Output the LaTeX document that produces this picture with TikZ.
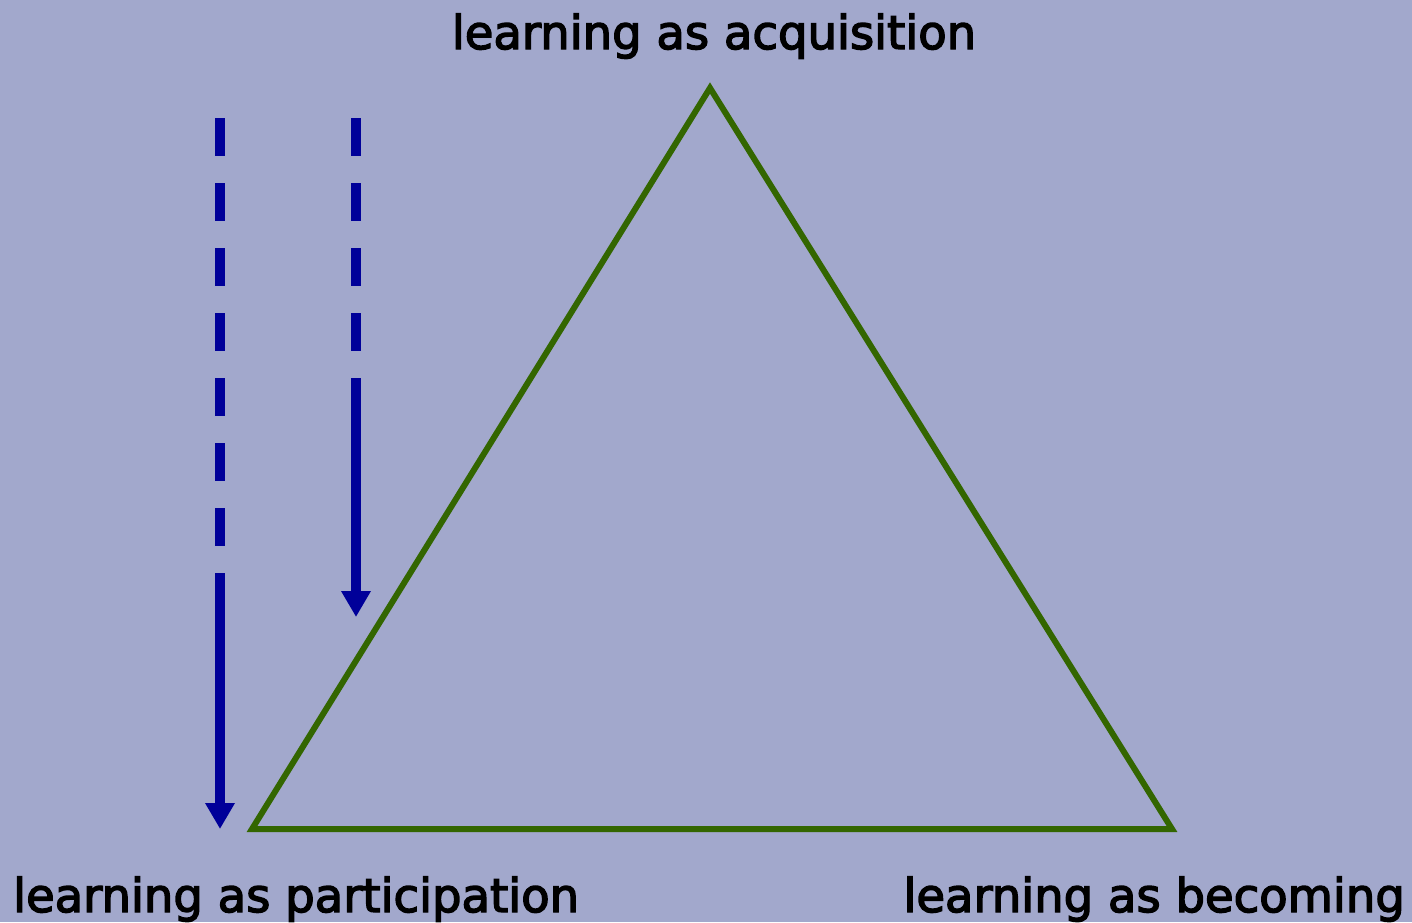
\documentclass[tikz,border=0pt]{standalone}
\usepackage{fontspec}
\setmainfont{DejaVu Sans}
\newfontfamily\lblfont[FakeBold=3]{DejaVu Sans}
\usetikzlibrary{arrows.meta}
\definecolor{bgc}{HTML}{A2A8CC}
\definecolor{trig}{HTML}{336600}
\definecolor{arrc}{HTML}{000099}
\tikzset{
  lbl/.style={anchor=base, inner sep=0pt, font=\lblfont\fontsize{46.5}{54}\selectfont, text=black},
  dashpart/.style={draw=arrc, line width=10pt, dash pattern=on 38pt off 27pt},
  solidpart/.style={draw=arrc, line width=10pt, -{Triangle[width=28pt,length=26pt]}},
  tri/.style={draw=trig, line width=6pt, line join=miter}
}
\begin{document}
\begin{tikzpicture}[x=1pt,y=-1pt]
\fill[bgc] (0,0) rectangle (1412,922);
\useasboundingbox (0,0) rectangle (1412,922);
\coordinate (A) at (710,88);
\coordinate (B) at (252,829);
\coordinate (C) at (1172,829);
\draw[tri] (A) -- (B) -- (C) -- cycle;
\node[lbl] (acq) at (714,49) {learning as acquisition};
\node[lbl, anchor=base west] (par) at (13,912) {learning as participation};
\node[lbl, anchor=base east] (bec) at (1405,912) {learning as becoming};
\coordinate (l1) at (220,118);
\coordinate (l2) at (220,573);
\coordinate (l3) at (220,829);
\coordinate (r1) at (356,118);
\coordinate (r2) at (356,378);
\coordinate (r3) at (356,617);
\draw[dashpart] (l1) -- (l2);
\draw[solidpart] (l2) -- (l3);
\draw[dashpart] (r1) -- (r2);
\draw[solidpart] (r2) -- (r3);
\end{tikzpicture}
\end{document}
